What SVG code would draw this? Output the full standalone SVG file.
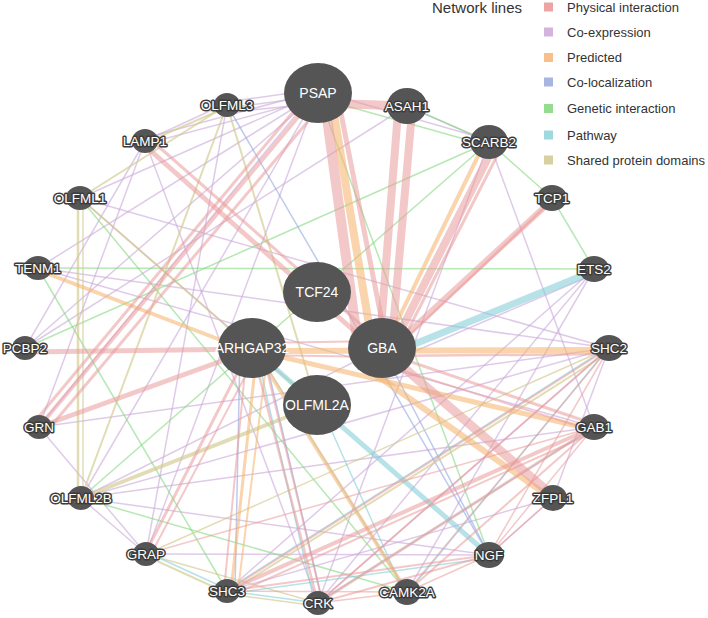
<svg xmlns="http://www.w3.org/2000/svg" width="708" height="618" viewBox="0 0 708 618">
<style>
.bg{fill:#ffffff}
line{stroke-linecap:butt;fill:none}
.ph{stroke:#e99a9a;stroke-opacity:.55}
.ce{stroke:#c9a9d8;stroke-opacity:.6}
.pr{stroke:#f5b774;stroke-opacity:.6}
.cl{stroke:#93a7de;stroke-opacity:.6}
.gi{stroke:#86d981;stroke-opacity:.6}
.pw{stroke:#86cfd9;stroke-opacity:.6}
.sd{stroke:#d2c98e;stroke-opacity:.65}
.t{stroke-width:1.5}
.n{fill:#555555}
.lb{font-family:"Liberation Sans",Arial,sans-serif;font-size:13.5px;fill:#ffffff;text-anchor:middle}
.sm{stroke:#3c3c3c;stroke-width:3;paint-order:stroke;stroke-linejoin:round}
.big{font-size:14px}
.lg{font-family:"Liberation Sans",Arial,sans-serif;font-size:13px;fill:#333333}
</style>
<rect class="bg" x="0" y="0" width="708" height="618"/>

<g id="legend">
<text x="432" y="13" class="lg" style="font-size:15px">Network lines</text>
<rect x="544" y="2.5" width="9" height="9" fill="#eda4a4"/>
<text x="567" y="11.5" class="lg">Physical interaction</text>
<rect x="544" y="27.5" width="9" height="9" fill="#d4b4dc"/>
<text x="567" y="36.5" class="lg">Co-expression</text>
<rect x="544" y="53" width="9" height="9" fill="#f7c08a"/>
<text x="567" y="62" class="lg">Predicted</text>
<rect x="544" y="77.5" width="9" height="9" fill="#a7b5e0"/>
<text x="567" y="86.5" class="lg">Co-localization</text>
<rect x="544" y="104" width="9" height="9" fill="#95dd8e"/>
<text x="567" y="113" class="lg">Genetic interaction</text>
<rect x="544" y="130.5" width="9" height="9" fill="#9ed9de"/>
<text x="567" y="139.5" class="lg">Pathway</text>
<rect x="544" y="155.5" width="9" height="9" fill="#d8d0a0"/>
<text x="567" y="164.5" class="lg">Shared protein domains</text>
</g>

<g id="connectors">
<!-- co-expression -->
<line class="ce t" x1="227" y1="102" x2="318" y2="89"/>
<line class="ce t" x1="227" y1="108" x2="318" y2="96"/>
<line class="ce t" x1="230" y1="112" x2="312" y2="104"/>
<line class="ce t" x1="145" y1="138" x2="318" y2="91"/>
<line class="ce t" x1="145" y1="144" x2="318" y2="98"/>
<line class="ce t" x1="145" y1="141" x2="227" y2="103"/>
<line class="ce t" x1="318" y1="91" x2="489" y2="140"/>
<line class="ce t" x1="407" y1="106" x2="489" y2="142"/>
<line class="ce t" x1="318" y1="93" x2="80" y2="198"/>
<line class="ce t" x1="318" y1="93" x2="38" y2="268"/>
<line class="ce t" x1="318" y1="93" x2="25" y2="348"/>
<line class="ce t" x1="318" y1="93" x2="81" y2="498"/>
<line class="ce t" x1="318" y1="93" x2="146" y2="554"/>
<line class="ce t" x1="314" y1="93" x2="41" y2="424"/>
<line class="ce t" x1="80" y1="198" x2="609" y2="348"/>
<line class="ce t" x1="38" y1="268" x2="594" y2="427"/>
<line class="ce t" x1="38" y1="268" x2="609" y2="348"/>
<line class="ce t" x1="145" y1="141" x2="39" y2="427"/>
<line class="ce t" x1="145" y1="141" x2="318" y2="603"/>
<line class="ce t" x1="145" y1="141" x2="25" y2="348"/>
<line class="ce t" x1="489" y1="142" x2="594" y2="427"/>
<line class="ce t" x1="489" y1="142" x2="318" y2="603"/>
<line class="ce t" x1="594" y1="269" x2="318" y2="603"/>
<line class="ce t" x1="590" y1="276" x2="404" y2="356"/>
<line class="ce t" x1="81" y1="498" x2="489" y2="555"/>
<line class="ce t" x1="81" y1="498" x2="382" y2="348"/>
<line class="ce t" x1="81" y1="498" x2="609" y2="348"/>
<line class="ce t" x1="81" y1="498" x2="594" y2="427"/>
<line class="ce t" x1="81" y1="498" x2="146" y2="554"/>
<line class="ce t" x1="39" y1="427" x2="146" y2="554"/>
<line class="ce t" x1="146" y1="554" x2="489" y2="555"/>
<line class="ce t" x1="39" y1="427" x2="609" y2="348"/>
<line class="ce t" x1="553" y1="498" x2="609" y2="348"/>
<line class="ce t" x1="553" y1="498" x2="227" y2="591"/>
<line class="ce t" x1="553" y1="498" x2="489" y2="555"/>
<line class="ce t" x1="25" y1="348" x2="407" y2="106"/>
<line class="ce t" x1="80" y1="198" x2="252" y2="348"/>
<line class="ce t" x1="594" y1="269" x2="227" y2="591"/>
<line class="ce t" x1="594" y1="269" x2="407" y2="592"/>
<line class="ce t" x1="227" y1="105" x2="146" y2="554"/>
<line class="ce t" x1="609" y1="348" x2="318" y2="603"/>
<!-- genetic interaction -->
<line class="gi t" x1="318" y1="98" x2="489" y2="146"/>
<line class="gi t" x1="318" y1="93" x2="489" y2="555"/>
<line class="gi t" x1="489" y1="142" x2="25" y2="348"/>
<line class="gi t" x1="489" y1="142" x2="81" y2="498"/>
<line class="gi t" x1="489" y1="142" x2="552" y2="198"/>
<line class="gi t" x1="552" y1="198" x2="594" y2="269"/>
<line class="gi t" x1="38" y1="268" x2="594" y2="269"/>
<line class="gi t" x1="38" y1="268" x2="227" y2="591"/>
<line class="gi t" x1="81" y1="498" x2="407" y2="592"/>
<line class="gi t" x1="80" y1="198" x2="407" y2="592"/>
<line class="gi t" x1="407" y1="106" x2="489" y2="142"/>
<!-- co-localization -->
<line class="cl t" x1="227" y1="105" x2="489" y2="555"/>
<line class="cl t" x1="240" y1="350" x2="235" y2="591"/>
<line class="cl t" x1="264" y1="352" x2="322" y2="600"/>
<line class="cl t" x1="382" y1="348" x2="489" y2="555"/>
<!-- shared protein domains -->
<line class="sd" stroke-width="2" x1="145" y1="143" x2="227" y2="107"/>
<line class="sd" stroke-width="2" x1="80" y1="198" x2="227" y2="105"/>
<line class="sd" stroke-width="2.5" x1="78" y1="198" x2="78" y2="498"/>
<line class="sd t" x1="83" y1="198" x2="83" y2="498"/>
<line class="sd" stroke-width="2" x1="227" y1="105" x2="81" y2="498"/>
<line class="sd" stroke-width="2" x1="227" y1="105" x2="317" y2="405"/>
<line class="sd" stroke-width="2" x1="80" y1="198" x2="317" y2="405"/>
<line class="sd" stroke-width="4" x1="81" y1="498" x2="317" y2="405"/>
<line class="sd" stroke-width="2" x1="609" y1="352" x2="227" y2="594"/>
<line class="sd t" x1="609" y1="348" x2="146" y2="554"/>
<line class="sd" stroke-width="2" x1="146" y1="556" x2="227" y2="593"/>
<line class="sd t" x1="146" y1="554" x2="318" y2="603"/>
<line class="sd t" x1="318" y1="606" x2="227" y2="594"/>
<!-- pathway -->
<line class="pw" stroke-width="7" x1="594" y1="271" x2="400" y2="350"/>
<line class="pw" stroke-width="5" x1="252" y1="348" x2="489" y2="555"/>
<line class="pw t" x1="146" y1="552" x2="227" y2="589"/>
<line class="pw t" x1="318" y1="603" x2="227" y2="591"/>
<line class="pw t" x1="604" y1="350" x2="230" y2="588"/>
<line class="pw t" x1="605" y1="352" x2="410" y2="590"/>
<line class="pw t" x1="590" y1="430" x2="322" y2="600"/>
<line class="pw t" x1="256" y1="350" x2="314" y2="600"/>
<line class="pw t" x1="320" y1="405" x2="403" y2="590"/>
<line class="pw t" x1="489" y1="558" x2="227" y2="594"/>
<line class="pw t" x1="260" y1="356" x2="407" y2="592"/>
<!-- predicted -->
<line class="pr" stroke-width="8" x1="331" y1="96" x2="372" y2="343"/>
<line class="pr" stroke-width="4" x1="482" y1="148" x2="388" y2="340"/>
<line class="pr" stroke-width="4" x1="38" y1="270" x2="252" y2="352"/>
<line class="pr" stroke-width="6" x1="260" y1="351" x2="609" y2="350"/>
<line class="pr" stroke-width="5" x1="252" y1="350" x2="594" y2="430"/>
<line class="pr" stroke-width="6" x1="372" y1="372" x2="548" y2="496"/>
<line class="pr" stroke-width="4" x1="256" y1="352" x2="407" y2="592"/>
<line class="pr" stroke-width="3" x1="257" y1="350" x2="231" y2="591"/>
<line class="pr" stroke-width="2" x1="268" y1="350" x2="238" y2="590"/>
<!-- physical interaction -->
<line class="ph" stroke-width="9" x1="318" y1="103" x2="407" y2="106"/>
<line class="ph" stroke-width="10" x1="324" y1="96" x2="358" y2="345"/>
<line class="ph" stroke-width="5" x1="338" y1="98" x2="386" y2="342"/>
<line class="ph" stroke-width="8" x1="398" y1="112" x2="380" y2="340"/>
<line class="ph" stroke-width="8" x1="412" y1="112" x2="392" y2="340"/>
<line class="ph" stroke-width="8" x1="493" y1="148" x2="396" y2="340"/>
<line class="ph" stroke-width="3" x1="500" y1="150" x2="402" y2="342"/>
<line class="ph" stroke-width="6" x1="552" y1="200" x2="398" y2="342"/>
<line class="ph" stroke-width="2.5" x1="546" y1="206" x2="394" y2="350"/>
<line class="ph" stroke-width="5" x1="143" y1="144" x2="378" y2="352"/>
<line class="ph" stroke-width="3" x1="150" y1="139" x2="384" y2="345"/>
<line class="ph" stroke-width="4" x1="318" y1="93" x2="39" y2="427"/>
<line class="ph" stroke-width="3" x1="308" y1="94" x2="36" y2="420"/>
<line class="ph" stroke-width="3" x1="326" y1="100" x2="46" y2="432"/>
<line class="ph" stroke-width="5" x1="252" y1="350" x2="39" y2="427"/>
<line class="ph" stroke-width="5" x1="25" y1="352" x2="252" y2="349"/>
<line class="ph" stroke-width="2" x1="252" y1="343" x2="382" y2="341"/>
<line class="ph" stroke-width="2" x1="252" y1="355" x2="382" y2="357"/>
<line class="ph" stroke-width="2.5" x1="382" y1="356" x2="609" y2="354"/>
<line class="ph" stroke-width="3" x1="382" y1="352" x2="594" y2="424"/>
<line class="ph" stroke-width="2" x1="388" y1="366" x2="594" y2="431"/>
<line class="ph" stroke-width="9" x1="395" y1="360" x2="553" y2="496"/>
<line class="ph" stroke-width="2" x1="247" y1="350" x2="224" y2="591"/>
<line class="ph" stroke-width="2.5" x1="252" y1="348" x2="318" y2="603"/>
<line class="ph" stroke-width="2" x1="262" y1="350" x2="322" y2="600"/>
<line class="ph" stroke-width="3" x1="249" y1="350" x2="145" y2="554"/>
<line class="ph" stroke-width="2" x1="258" y1="352" x2="150" y2="556"/>
<line class="ph" stroke-width="4" x1="594" y1="427" x2="227" y2="591"/>
<line class="ph" stroke-width="2" x1="590" y1="434" x2="230" y2="596"/>
<line class="ph" stroke-width="3" x1="594" y1="427" x2="318" y2="603"/>
<line class="ph t" x1="594" y1="427" x2="146" y2="554"/>
<line class="ph" stroke-width="2" x1="594" y1="427" x2="407" y2="592"/>
<line class="ph" stroke-width="2" x1="609" y1="348" x2="227" y2="591"/>
<line class="ph" stroke-width="2" x1="609" y1="348" x2="318" y2="603"/>
<line class="ph t" x1="609" y1="348" x2="489" y2="555"/>
<line class="ph t" x1="609" y1="348" x2="407" y2="592"/>
<line class="ph" stroke-width="2" x1="489" y1="555" x2="227" y2="591"/>
<line class="ph" stroke-width="2" x1="489" y1="555" x2="318" y2="603"/>
<line class="ph t" x1="489" y1="555" x2="407" y2="592"/>
<line class="ph t" x1="489" y1="555" x2="594" y2="427"/>
<line class="ph t" x1="407" y1="592" x2="227" y2="591"/>
<line class="ph t" x1="407" y1="592" x2="318" y2="603"/>
<line class="ph t" x1="553" y1="498" x2="489" y2="555"/>
</g>

<g id="nodes">
<g id="n-PSAP"><ellipse class="n" cx="318" cy="93" rx="34" ry="30"/><text class="lb big" x="318" y="98">PSAP</text></g>
<g id="n-TCF24"><ellipse class="n" cx="317" cy="292" rx="34" ry="30"/><text class="lb big" x="317" y="297">TCF24</text></g>
<g id="n-ARHGAP32"><ellipse class="n" cx="252" cy="348" rx="34" ry="30"/><text class="lb big" x="252" y="353">ARHGAP32</text></g>
<g id="n-GBA"><ellipse class="n" cx="382" cy="348" rx="34" ry="30"/><text class="lb big" x="382" y="353">GBA</text></g>
<g id="n-OLFML2A"><ellipse class="n" cx="317" cy="405" rx="34" ry="30"/><text class="lb big" x="317" y="410">OLFML2A</text></g>
<g id="n-ASAH1"><ellipse class="n" cx="407" cy="106" rx="20" ry="18"/><text class="lb sm" x="407" y="111">ASAH1</text></g>
<g id="n-SCARB2"><ellipse class="n" cx="489" cy="142" rx="19" ry="17"/><text class="lb sm" x="489" y="147">SCARB2</text></g>
<g id="n-TCP1"><ellipse class="n" cx="552" cy="198" rx="15" ry="13"/><text class="lb sm" x="552" y="203">TCP1</text></g>
<g id="n-ETS2"><ellipse class="n" cx="594" cy="269" rx="15" ry="13"/><text class="lb sm" x="594" y="274">ETS2</text></g>
<g id="n-SHC2"><ellipse class="n" cx="609" cy="348" rx="15" ry="13"/><text class="lb sm" x="609" y="353">SHC2</text></g>
<g id="n-GAB1"><ellipse class="n" cx="594" cy="427" rx="15" ry="13"/><text class="lb sm" x="594" y="432">GAB1</text></g>
<g id="n-ZFPL1"><ellipse class="n" cx="553" cy="498" rx="14" ry="13"/><text class="lb sm" x="553" y="503">ZFPL1</text></g>
<g id="n-NGF"><ellipse class="n" cx="489" cy="555" rx="15" ry="13"/><text class="lb sm" x="489" y="560">NGF</text></g>
<g id="n-CAMK2A"><ellipse class="n" cx="407" cy="592" rx="14" ry="13"/><text class="lb sm" x="407" y="597">CAMK2A</text></g>
<g id="n-CRK"><ellipse class="n" cx="318" cy="603" rx="13" ry="12"/><text class="lb sm" x="318" y="608">CRK</text></g>
<g id="n-SHC3"><ellipse class="n" cx="227" cy="591" rx="13" ry="12"/><text class="lb sm" x="227" y="596">SHC3</text></g>
<g id="n-GRAP"><ellipse class="n" cx="146" cy="554" rx="13" ry="12"/><text class="lb sm" x="146" y="559">GRAP</text></g>
<g id="n-OLFML2B"><ellipse class="n" cx="81" cy="498" rx="13" ry="12"/><text class="lb sm" x="81" y="503">OLFML2B</text></g>
<g id="n-GRN"><ellipse class="n" cx="39" cy="427" rx="13" ry="12"/><text class="lb sm" x="39" y="432">GRN</text></g>
<g id="n-PCBP2"><ellipse class="n" cx="25" cy="348" rx="13" ry="12"/><text class="lb sm" x="25" y="353">PCBP2</text></g>
<g id="n-TENM1"><ellipse class="n" cx="38" cy="268" rx="14" ry="12"/><text class="lb sm" x="38" y="273">TENM1</text></g>
<g id="n-OLFML1"><ellipse class="n" cx="80" cy="198" rx="14" ry="12"/><text class="lb sm" x="80" y="203">OLFML1</text></g>
<g id="n-LAMP1"><ellipse class="n" cx="145" cy="141" rx="13" ry="12"/><text class="lb sm" x="145" y="146">LAMP1</text></g>
<g id="n-OLFML3"><ellipse class="n" cx="227" cy="105" rx="13" ry="12"/><text class="lb sm" x="227" y="110">OLFML3</text></g>
</g>
</svg>
